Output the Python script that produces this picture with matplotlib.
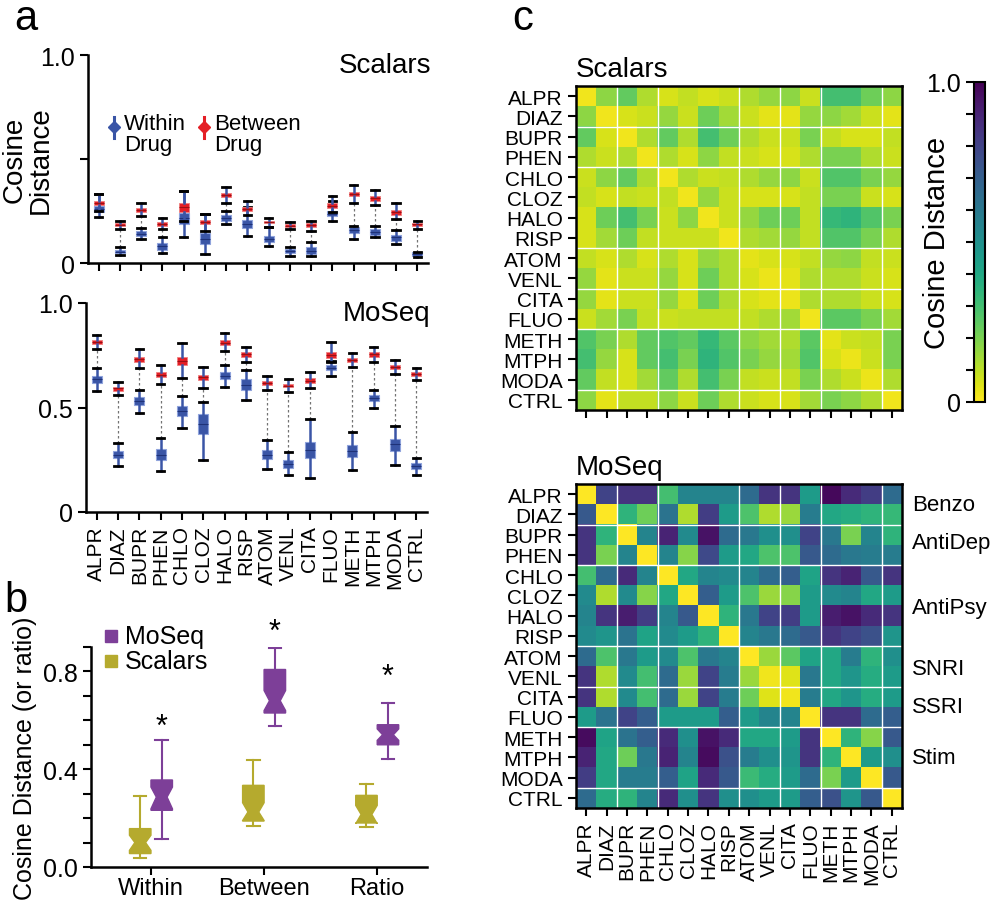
import numpy as np
import matplotlib
matplotlib.use('Agg')
from matplotlib import pyplot as plt

plt.rcParams['font.family'] = ['Liberation Sans', 'DejaVu Sans']

W, H = 990, 903

drugs = ['ALPR', 'DIAZ', 'BUPR', 'PHEN', 'CHLO', 'CLOZ', 'HALO', 'RISP',
         'ATOM', 'VENL', 'CITA', 'FLUO', 'METH', 'MTPH', 'MODA', 'CTRL']

# per drug: (whisker low, q1, median, q3, whisker high)
scalars_within = [
    (0.22, 0.244, 0.26, 0.276, 0.33), (0.038, 0.046, 0.055, 0.064, 0.075),
    (0.115, 0.128, 0.14, 0.154, 0.17), (0.05, 0.064, 0.08, 0.096, 0.123),
    (0.127, 0.187, 0.215, 0.24, 0.348), (0.043, 0.09, 0.115, 0.144, 0.235),
    (0.187, 0.204, 0.218, 0.232, 0.25), (0.131, 0.17, 0.187, 0.207, 0.268),
    (0.083, 0.103, 0.115, 0.13, 0.171), (0.035, 0.046, 0.056, 0.067, 0.078),
    (0.035, 0.045, 0.06, 0.078, 0.103), (0.204, 0.224, 0.237, 0.25, 0.30),
    (0.115, 0.144, 0.16, 0.175, 0.18), (0.123, 0.135, 0.149, 0.162, 0.18),
    (0.09, 0.107, 0.123, 0.136, 0.159), (0.03, 0.033, 0.042, 0.051, 0.055),
]
scalars_between = [
    (0.25, 0.28, 0.29, 0.30, 0.33), (0.163, 0.176, 0.183, 0.19, 0.20),
    (0.228, 0.247, 0.256, 0.266, 0.29), (0.163, 0.18, 0.188, 0.197, 0.216),
    (0.20, 0.247, 0.27, 0.288, 0.348), (0.155, 0.186, 0.195, 0.205, 0.235),
    (0.288, 0.317, 0.327, 0.336, 0.365), (0.23, 0.25, 0.26, 0.27, 0.30),
    (0.175, 0.19, 0.195, 0.20, 0.218), (0.163, 0.175, 0.18, 0.186, 0.195),
    (0.155, 0.173, 0.182, 0.19, 0.20), (0.244, 0.263, 0.275, 0.287, 0.32),
    (0.288, 0.32, 0.333, 0.343, 0.375), (0.28, 0.30, 0.312, 0.324, 0.353),
    (0.21, 0.23, 0.243, 0.255, 0.287), (0.163, 0.18, 0.186, 0.192, 0.20),
]
moseq_within = [
    (0.58, 0.617, 0.636, 0.652, 0.687), (0.22, 0.256, 0.273, 0.292, 0.332),
    (0.476, 0.513, 0.53, 0.551, 0.585), (0.195, 0.248, 0.275, 0.30, 0.356),
    (0.404, 0.46, 0.484, 0.508, 0.553), (0.25, 0.375, 0.423, 0.471, 0.527),
    (0.60, 0.636, 0.653, 0.671, 0.703), (0.537, 0.585, 0.61, 0.636, 0.68),
    (0.208, 0.252, 0.275, 0.297, 0.345), (0.176, 0.211, 0.232, 0.248, 0.289),
    (0.165, 0.257, 0.297, 0.337, 0.444), (0.652, 0.679, 0.69, 0.703, 0.724),
    (0.20, 0.265, 0.292, 0.319, 0.383), (0.50, 0.529, 0.545, 0.559, 0.583),
    (0.225, 0.292, 0.324, 0.348, 0.412), (0.176, 0.204, 0.219, 0.233, 0.26),
]
moseq_between = [
    (0.78, 0.802, 0.813, 0.824, 0.847), (0.558, 0.581, 0.591, 0.60, 0.623),
    (0.688, 0.72, 0.733, 0.744, 0.78), (0.612, 0.644, 0.656, 0.668, 0.703),
    (0.642, 0.703, 0.722, 0.74, 0.807), (0.594, 0.633, 0.644, 0.655, 0.693),
    (0.772, 0.799, 0.81, 0.821, 0.856), (0.716, 0.744, 0.754, 0.765, 0.791),
    (0.583, 0.609, 0.617, 0.626, 0.65), (0.573, 0.596, 0.604, 0.612, 0.636),
    (0.594, 0.618, 0.629, 0.641, 0.668), (0.716, 0.736, 0.75, 0.764, 0.815),
    (0.692, 0.716, 0.725, 0.735, 0.76), (0.719, 0.743, 0.754, 0.764, 0.788),
    (0.66, 0.682, 0.692, 0.701, 0.725), (0.631, 0.652, 0.661, 0.669, 0.69),
]

# panel b: (whisker low, q1, median, q3, whisker high, notch low, notch high)
groups = ['Within', 'Between', 'Ratio']
b_scalars = [
    (0.037, 0.055, 0.10, 0.157, 0.29, 0.068, 0.13),
    (0.168, 0.188, 0.225, 0.334, 0.436, 0.19, 0.263),
    (0.163, 0.18, 0.215, 0.293, 0.338, 0.177, 0.252),
]
b_moseq = [
    (0.116, 0.232, 0.286, 0.356, 0.518, 0.238, 0.327),
    (0.575, 0.63, 0.68, 0.808, 0.896, 0.64, 0.722),
    (0.443, 0.50, 0.541, 0.582, 0.672, 0.518, 0.565),
]
b_star = [0.572, 0.96, 0.777]

scalars_mat = [
    [0.02, 0.17, 0.24, 0.12, 0.06, 0.09, 0.06, 0.08, 0.12, 0.16, 0.17, 0.08, 0.30, 0.30, 0.22, 0.17],
    [0.17, 0.02, 0.06, 0.08, 0.16, 0.08, 0.22, 0.14, 0.08, 0.04, 0.04, 0.16, 0.17, 0.14, 0.08, 0.04],
    [0.24, 0.06, 0.02, 0.12, 0.24, 0.12, 0.30, 0.22, 0.12, 0.08, 0.08, 0.20, 0.09, 0.06, 0.06, 0.09],
    [0.12, 0.08, 0.12, 0.02, 0.12, 0.06, 0.17, 0.09, 0.08, 0.06, 0.06, 0.12, 0.20, 0.20, 0.12, 0.08],
    [0.08, 0.17, 0.24, 0.12, 0.02, 0.12, 0.08, 0.09, 0.12, 0.16, 0.17, 0.08, 0.27, 0.27, 0.20, 0.16],
    [0.09, 0.06, 0.09, 0.08, 0.09, 0.02, 0.16, 0.08, 0.06, 0.06, 0.06, 0.09, 0.20, 0.20, 0.08, 0.06],
    [0.06, 0.22, 0.30, 0.20, 0.08, 0.17, 0.02, 0.08, 0.16, 0.22, 0.22, 0.09, 0.33, 0.35, 0.27, 0.20],
    [0.06, 0.14, 0.22, 0.09, 0.08, 0.08, 0.08, 0.02, 0.12, 0.14, 0.16, 0.09, 0.27, 0.27, 0.20, 0.12],
    [0.09, 0.06, 0.12, 0.06, 0.12, 0.06, 0.16, 0.12, 0.04, 0.06, 0.06, 0.09, 0.16, 0.17, 0.09, 0.08],
    [0.16, 0.04, 0.08, 0.08, 0.16, 0.06, 0.22, 0.12, 0.06, 0.03, 0.04, 0.12, 0.12, 0.12, 0.08, 0.06],
    [0.16, 0.04, 0.08, 0.08, 0.16, 0.06, 0.22, 0.12, 0.06, 0.04, 0.03, 0.12, 0.12, 0.12, 0.08, 0.06],
    [0.08, 0.14, 0.20, 0.09, 0.08, 0.09, 0.09, 0.09, 0.09, 0.12, 0.14, 0.02, 0.25, 0.25, 0.20, 0.14],
    [0.27, 0.20, 0.12, 0.24, 0.27, 0.24, 0.33, 0.25, 0.17, 0.14, 0.12, 0.25, 0.04, 0.08, 0.09, 0.20],
    [0.30, 0.16, 0.06, 0.24, 0.30, 0.20, 0.35, 0.27, 0.20, 0.16, 0.14, 0.27, 0.06, 0.03, 0.08, 0.20],
    [0.24, 0.09, 0.06, 0.14, 0.24, 0.12, 0.30, 0.20, 0.09, 0.08, 0.09, 0.20, 0.12, 0.08, 0.03, 0.12],
    [0.17, 0.04, 0.09, 0.09, 0.17, 0.08, 0.22, 0.12, 0.08, 0.06, 0.06, 0.14, 0.20, 0.17, 0.12, 0.02],
]
moseq_mat = [
    [0.00, 0.80, 0.85, 0.85, 0.30, 0.55, 0.55, 0.55, 0.65, 0.85, 0.85, 0.45, 0.98, 0.88, 0.82, 0.65],
    [0.72, 0.00, 0.35, 0.22, 0.62, 0.12, 0.82, 0.45, 0.28, 0.12, 0.15, 0.58, 0.40, 0.38, 0.35, 0.33],
    [0.85, 0.35, 0.00, 0.55, 0.90, 0.52, 0.95, 0.65, 0.60, 0.50, 0.50, 0.80, 0.60, 0.20, 0.55, 0.35],
    [0.85, 0.20, 0.55, 0.00, 0.55, 0.18, 0.78, 0.45, 0.40, 0.28, 0.28, 0.72, 0.65, 0.60, 0.58, 0.58],
    [0.30, 0.65, 0.88, 0.55, 0.00, 0.40, 0.55, 0.52, 0.55, 0.65, 0.70, 0.42, 0.85, 0.90, 0.72, 0.85],
    [0.52, 0.12, 0.52, 0.18, 0.40, 0.00, 0.70, 0.45, 0.28, 0.15, 0.18, 0.45, 0.52, 0.55, 0.40, 0.45],
    [0.55, 0.85, 0.92, 0.82, 0.55, 0.72, 0.00, 0.35, 0.60, 0.80, 0.82, 0.45, 0.92, 0.95, 0.88, 0.85],
    [0.52, 0.48, 0.62, 0.42, 0.52, 0.45, 0.35, 0.00, 0.55, 0.60, 0.65, 0.72, 0.85, 0.80, 0.75, 0.48],
    [0.65, 0.28, 0.60, 0.45, 0.52, 0.28, 0.60, 0.55, 0.00, 0.15, 0.25, 0.42, 0.40, 0.58, 0.35, 0.50],
    [0.85, 0.12, 0.52, 0.30, 0.65, 0.15, 0.80, 0.58, 0.15, 0.02, 0.05, 0.60, 0.40, 0.48, 0.38, 0.45],
    [0.85, 0.12, 0.52, 0.30, 0.65, 0.15, 0.80, 0.58, 0.22, 0.05, 0.02, 0.58, 0.40, 0.48, 0.38, 0.45],
    [0.45, 0.62, 0.80, 0.70, 0.45, 0.45, 0.45, 0.70, 0.45, 0.55, 0.55, 0.00, 0.85, 0.85, 0.65, 0.70],
    [0.97, 0.42, 0.62, 0.70, 0.88, 0.50, 0.95, 0.88, 0.40, 0.40, 0.45, 0.85, 0.00, 0.35, 0.18, 0.72],
    [0.90, 0.40, 0.22, 0.60, 0.90, 0.55, 0.97, 0.75, 0.58, 0.50, 0.48, 0.85, 0.35, 0.00, 0.45, 0.50],
    [0.82, 0.40, 0.58, 0.58, 0.70, 0.42, 0.88, 0.72, 0.32, 0.38, 0.45, 0.65, 0.20, 0.45, 0.00, 0.72],
    [0.65, 0.38, 0.35, 0.55, 0.88, 0.50, 0.85, 0.50, 0.50, 0.45, 0.45, 0.70, 0.75, 0.48, 0.72, 0.00],
]
class_names = ['Benzo', 'AntiDep', 'AntiPsy', 'SNRI', 'SSRI', 'Stim']
class_rows = [0.5, 2.4, 5.6, 8.6, 10.5, 13.0]
group_edges = [1.5, 3.5, 7.5, 9.5, 11.5, 14.5]

blue = '#3a55a6'
red = '#e41f26'
purple = '#7d3f98'
olive = '#b5aa2e'


def rect(x0, y0, x1, y1):
    return [x0 / W, 1 - y1 / H, (x1 - x0) / W, (y1 - y0) / H]


def stats_from(rows):
    return [dict(whislo=r[0], q1=r[1], med=r[2], q3=r[3], whishi=r[4], fliers=[]) for r in rows]


def clean_axes(ax):
    ax.spines['top'].set_visible(False)
    ax.spines['right'].set_visible(False)
    ax.spines['left'].set_linewidth(1.8)
    ax.spines['bottom'].set_linewidth(1.8)
    ax.tick_params(width=1.5, length=6, labelsize=18)


def drug_panel(ax, within, between, title, labels):
    pos = np.arange(1, len(drugs) + 1)
    for p, w, b in zip(pos, within, between):
        ax.plot([p, p], [w[4], b[0]], ls=(0, (2, 2)), color='0.45', lw=0.9, zorder=1)
    ax.bxp(stats_from(within), positions=pos, widths=0.47, patch_artist=True,
           showfliers=False, capwidths=0.35, manage_ticks=False, zorder=2,
           boxprops=dict(facecolor=blue, edgecolor='#8fa3dc', lw=0.8),
           whiskerprops=dict(color=blue, lw=1.8),
           capprops=dict(color='k', lw=2),
           medianprops=dict(color='#1f3278', lw=0.8))
    ax.bxp(stats_from(between), positions=pos, widths=0.47, patch_artist=True,
           showfliers=False, capwidths=0.35, manage_ticks=False, zorder=3,
           boxprops=dict(facecolor=red, edgecolor='#f08080', lw=0.6),
           whiskerprops=dict(color=blue, lw=1.8),
           capprops=dict(color='k', lw=2),
           medianprops=dict(color='#9b1015', lw=0.8))
    clean_axes(ax)
    ax.set_xlim(0.5, 16.5)
    ax.set_ylim(0, 1.0)
    ax.set_yticks([0, 0.5, 1.0])
    ax.set_xticks(pos)
    if labels:
        ax.set_yticklabels(['0', '0.5', '1.0'])
        ax.set_xticklabels(drugs, rotation=90, fontsize=15)
    else:
        ax.set_yticklabels(['0', '', '1.0'])
        ax.set_xticklabels([])
    ax.text(1.01, 0.95, title, transform=ax.transAxes, ha='right', va='center', fontsize=20)


def heat_panel(ax, mat, title, xlabels):
    im = ax.imshow(np.array(mat), cmap='viridis_r', vmin=0, vmax=1, aspect='auto',
                   interpolation='nearest')
    for e in group_edges:
        ax.axhline(e, color='white', lw=1)
        ax.axvline(e, color='white', lw=1)
    for s in ax.spines.values():
        s.set_linewidth(1.8)
    ax.set_yticks(range(len(drugs)))
    ax.set_yticklabels(drugs)
    ax.set_xticks(range(len(drugs)))
    if xlabels:
        ax.set_xticklabels(drugs, rotation=90)
    else:
        ax.set_xticklabels([])
    ax.tick_params(width=1.5, length=6, labelsize=15)
    ax.set_title(title, loc='left', fontsize=20, pad=7)
    return im


fig = plt.figure(figsize=(W / 100, H / 100), dpi=100)

# panel a
ax1 = fig.add_axes(rect(88, 56, 428, 264))
drug_panel(ax1, scalars_within, scalars_between, 'Scalars', False)
ax1.set_ylabel('Cosine\nDistance', fontsize=20, linespacing=1.0)
ax1.yaxis.set_label_coords(-0.1, 0.5)
for xf, col, txt in [(0.076, blue, 'Within\nDrug'), (0.34, red, 'Between\nDrug')]:
    ax1.plot([xf, xf], [0.60, 0.70], color=col, lw=2.2, transform=ax1.transAxes, clip_on=False)
    ax1.plot([xf], [0.655], marker='D', ms=6, color=col, transform=ax1.transAxes, clip_on=False)
    ax1.text(xf + 0.03, 0.72, txt, transform=ax1.transAxes, ha='left', va='top',
             fontsize=16, linespacing=1.0)

ax2 = fig.add_axes(rect(86, 304, 427, 513))
drug_panel(ax2, moseq_within, moseq_between, 'MoSeq', True)

# panel b
axb = fig.add_axes(rect(91, 648, 427, 868))
bpos = np.arange(1, len(groups) + 1)
for rows, col, off in [(b_scalars, olive, -0.095), (b_moseq, purple, 0.095)]:
    st = stats_from(rows)
    for s, r in zip(st, rows):
        s['cilo'], s['cihi'] = r[5], r[6]
    axb.bxp(st, positions=bpos + off, widths=0.19, patch_artist=True, shownotches=True,
            showfliers=False, capwidths=0.11, manage_ticks=False,
            boxprops=dict(facecolor=col, edgecolor=col, lw=1),
            whiskerprops=dict(color=col, lw=1.5),
            capprops=dict(color=col, lw=1.5),
            medianprops=dict(color=col, lw=0))
for p, y in zip(bpos, b_star):
    axb.text(p + 0.095, y, '*', ha='center', va='center', fontsize=22)
clean_axes(axb)
axb.set_xlim(0.47, 3.44)
axb.set_ylim(0, 0.9)
yt = np.arange(0, 0.91, 0.1)
axb.set_yticks(yt)
axb.set_yticklabels(['%.1f' % v if round(v * 10) % 4 == 0 else '' for v in yt])
axb.set_xticks(bpos)
axb.set_xticklabels(groups, fontsize=17)
axb.tick_params(axis='x', pad=1)
axb.set_ylabel('Cosine Distance (or ratio)', fontsize=18, labelpad=4)
for yf, col, txt in [(1.05, purple, 'MoSeq'), (0.935, olive, 'Scalars')]:
    axb.plot([0.06], [yf], marker='s', ms=8, color=col, transform=axb.transAxes, clip_on=False)
    axb.text(0.10, yf, txt, transform=axb.transAxes, ha='left', va='center', fontsize=18)

# panel c
axs = fig.add_axes(rect(576, 87, 902, 411))
im = heat_panel(axs, scalars_mat, 'Scalars', False)
axm = fig.add_axes(rect(576, 485, 902, 809))
heat_panel(axm, moseq_mat, 'MoSeq', True)
for name, r in zip(class_names, class_rows):
    axm.text(16.0, r, name, ha='left', va='center', fontsize=16)

cax = fig.add_axes(rect(974, 83, 985, 403))
cb = fig.colorbar(im, cax=cax)
cb.outline.set_linewidth(1.5)
cb.set_ticks(np.linspace(0, 1, 11))
cb.set_ticklabels(['0'] + [''] * 9 + ['1.0'])
cax.yaxis.set_ticks_position('left')
cax.yaxis.set_label_position('left')
cax.tick_params(width=1.5, length=6, labelsize=18)
cb.set_label('Cosine Distance', fontsize=21)
cax.yaxis.set_label_coords(-2.1, 0.5)

for x, y, t in [(14, 30, 'a'), (4, 612, 'b'), (512, 30, 'c')]:
    fig.text(x / W, 1 - y / H, t, fontsize=30, ha='left', va='baseline')

fig.savefig('out.png', dpi=100)
